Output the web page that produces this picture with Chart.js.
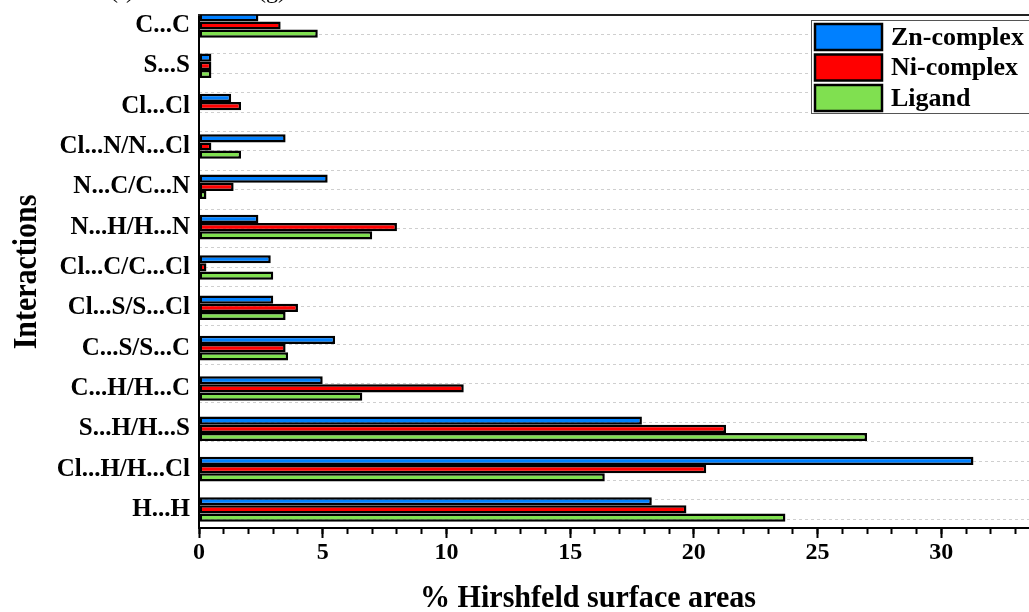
<!DOCTYPE html>
<html><head><meta charset="utf-8">
<script src="https://cdn.jsdelivr.net/npm/chart.js@4/dist/chart.umd.min.js"></script>
<style>html,body{margin:0;padding:0;background:#fff;overflow:hidden;width:1029px;height:612px}canvas{display:block}</style>
</head><body><canvas id="c" width="1080" height="612"></canvas>
<script>
const categories = ['C...C','S...S','Cl...Cl','Cl...N/N...Cl','N...C/C...N','N...H/H...N','Cl...C/C...Cl','Cl...S/S...Cl','C...S/S...C','C...H/H...C','S...H/H...S','Cl...H/H...Cl','H...H'];
const seriesNames = ['Zn-complex','Ni-complex','Ligand'];
const znComplex = [2.4,0.5,1.3,3.5,5.2,2.4,2.9,3.0,5.5,5.0,17.9,31.3,18.3];
const niComplex = [3.3,0.5,1.7,0.5,1.4,8.0,0.3,4.0,3.5,10.7,21.3,20.5,19.7];
const ligand    = [4.8,0.5,0,1.7,0.3,7.0,3.0,3.5,3.6,6.6,27.0,16.4,23.7];
const seriesColors = ['#0080ff','#ff0000','#80e050'];
const xAxisTitle = '% Hirshfeld surface areas';
const yAxisTitle = 'Interactions';
const panelLabels = ['(f)','(g)'];

Chart.defaults.font.family = '"Liberation Serif", "Times New Roman", serif';
Chart.defaults.color = '#000';

const seriesValues = [znComplex, niComplex, ligand];
const datasets = seriesValues.map((vals, s) => ({
  label: seriesNames[s],
  data: vals.map((v, i) => ({x: v, y: i})),
  backgroundColor: seriesColors[s],
  borderColor: '#000',
  borderWidth: 2.5,
  borderSkipped: false,
  categoryPercentage: 0.61,
  barPercentage: 1.0,
  xAxisID: 'x',
  yAxisID: 'y',
  clip: 0
}));

const noPad = (s) => { s.paddingTop = 0; s.paddingBottom = 0; s.paddingLeft = 0; s.paddingRight = 0; };

const decor = {
  id: 'decor',
  afterDraw(chart) {
    const ctx = chart.ctx;
    ctx.save();
    ctx.fillStyle = '#000';
    ctx.font = '24px "Liberation Serif"';
    ctx.textAlign = 'left';
    ctx.textBaseline = 'alphabetic';
    ctx.fillText(panelLabels[0], 110, -2);
    ctx.fillText(panelLabels[1], 258, -2);
    ctx.save();
    ctx.font = 'bold 32px "Liberation Serif"';
    ctx.textAlign = 'center';
    ctx.translate(588, 607);
    ctx.scale(0.94, 1);
    ctx.fillText(xAxisTitle, 0, 0);
    ctx.restore();
    ctx.save();
    ctx.font = 'bold 34px "Liberation Serif"';
    ctx.textAlign = 'center';
    ctx.translate(36, 272);
    ctx.rotate(-Math.PI / 2);
    ctx.scale(0.88, 1);
    ctx.fillText(yAxisTitle, 0, 0);
    ctx.restore();
    ctx.fillStyle = '#fff';
    ctx.fillRect(811, 20, 240, 93);
    ctx.strokeStyle = '#555';
    ctx.lineWidth = 1;
    ctx.strokeRect(811.5, 20.5, 240, 93);
    chart.data.datasets.forEach((ds, i) => {
      const y = 24 + i * 30.5;
      ctx.fillStyle = ds.backgroundColor;
      ctx.fillRect(815, y, 67, 26);
      ctx.strokeStyle = '#000';
      ctx.lineWidth = 2.5;
      ctx.strokeRect(815, y, 67, 26);
      ctx.fillStyle = '#000';
      ctx.font = 'bold 26px "Liberation Serif"';
      ctx.textAlign = 'left';
      ctx.textBaseline = 'middle';
      ctx.fillText(ds.label, 891, y + 14);
    });
    ctx.restore();
  }
};

new Chart(document.getElementById('c'), {
  type: 'bar',
  data: { datasets },
  plugins: [decor],
  options: {
    indexAxis: 'y',
    responsive: false,
    animation: false,
    layout: { padding: { top: 15, right: 15, left: 0, bottom: 0 } },
    plugins: { legend: { display: false }, tooltip: { enabled: false } },
    scales: {
      y: {
        type: 'linear', position: 'left', reverse: true,
        min: -0.26, max: 12.46, offset: false,
        afterBuildTicks: (s) => { s.ticks = categories.map((c, i) => ({ value: i })); },
        afterFit: (s) => { s.width = 199; noPad(s); },
        grid: { display: false, drawTicks: false, offset: false },
        border: { display: true, color: '#000', width: 2 },
        ticks: { autoSkip: false, padding: 9, font: { size: 25, weight: 'bold' }, color: '#000',
          callback: (v) => categories[v] }
      },
      yg: {
        type: 'linear', position: 'right', reverse: true,
        min: 0, max: 12.72,
        ticks: { display: false, stepSize: 0.5, includeBounds: false },
        afterFit: (s) => { s.width = 0; noPad(s); },
        grid: { display: true, drawTicks: false, drawOnChartArea: true, color: '#cfcfcf', lineWidth: 1 },
        border: { display: false, dash: [3, 3] }
      },
      xm: {
        type: 'linear', position: 'bottom', weight: -10,
        min: 0, max: 35,
        afterFit: (s) => { s.height = 0; noPad(s); },
        ticks: { display: false, stepSize: 1, includeBounds: false },
        grid: { display: true, drawOnChartArea: false, drawTicks: true, tickLength: 6, tickWidth: 2, tickColor: '#000' },
        border: { display: false }
      },
      x: {
        type: 'linear', position: 'bottom', weight: 0,
        min: 0, max: 35,
        afterFit: (s) => { s.height = 84; noPad(s); },
        ticks: { stepSize: 5, padding: 0, font: { size: 24, weight: 'bold' }, color: '#000', maxRotation: 0 },
        grid: { display: true, drawOnChartArea: false, drawTicks: true, tickLength: 10, tickWidth: 2, tickColor: '#000' },
        border: { display: true, color: '#000', width: 2 }
      },
      xt: {
        type: 'linear', position: 'top',
        min: 0, max: 35,
        afterFit: (s) => { s.height = 0; noPad(s); },
        ticks: { display: false },
        grid: { display: false },
        border: { display: true, color: '#222', width: 2 }
      }
    }
  }
});
</script>
</body></html>
